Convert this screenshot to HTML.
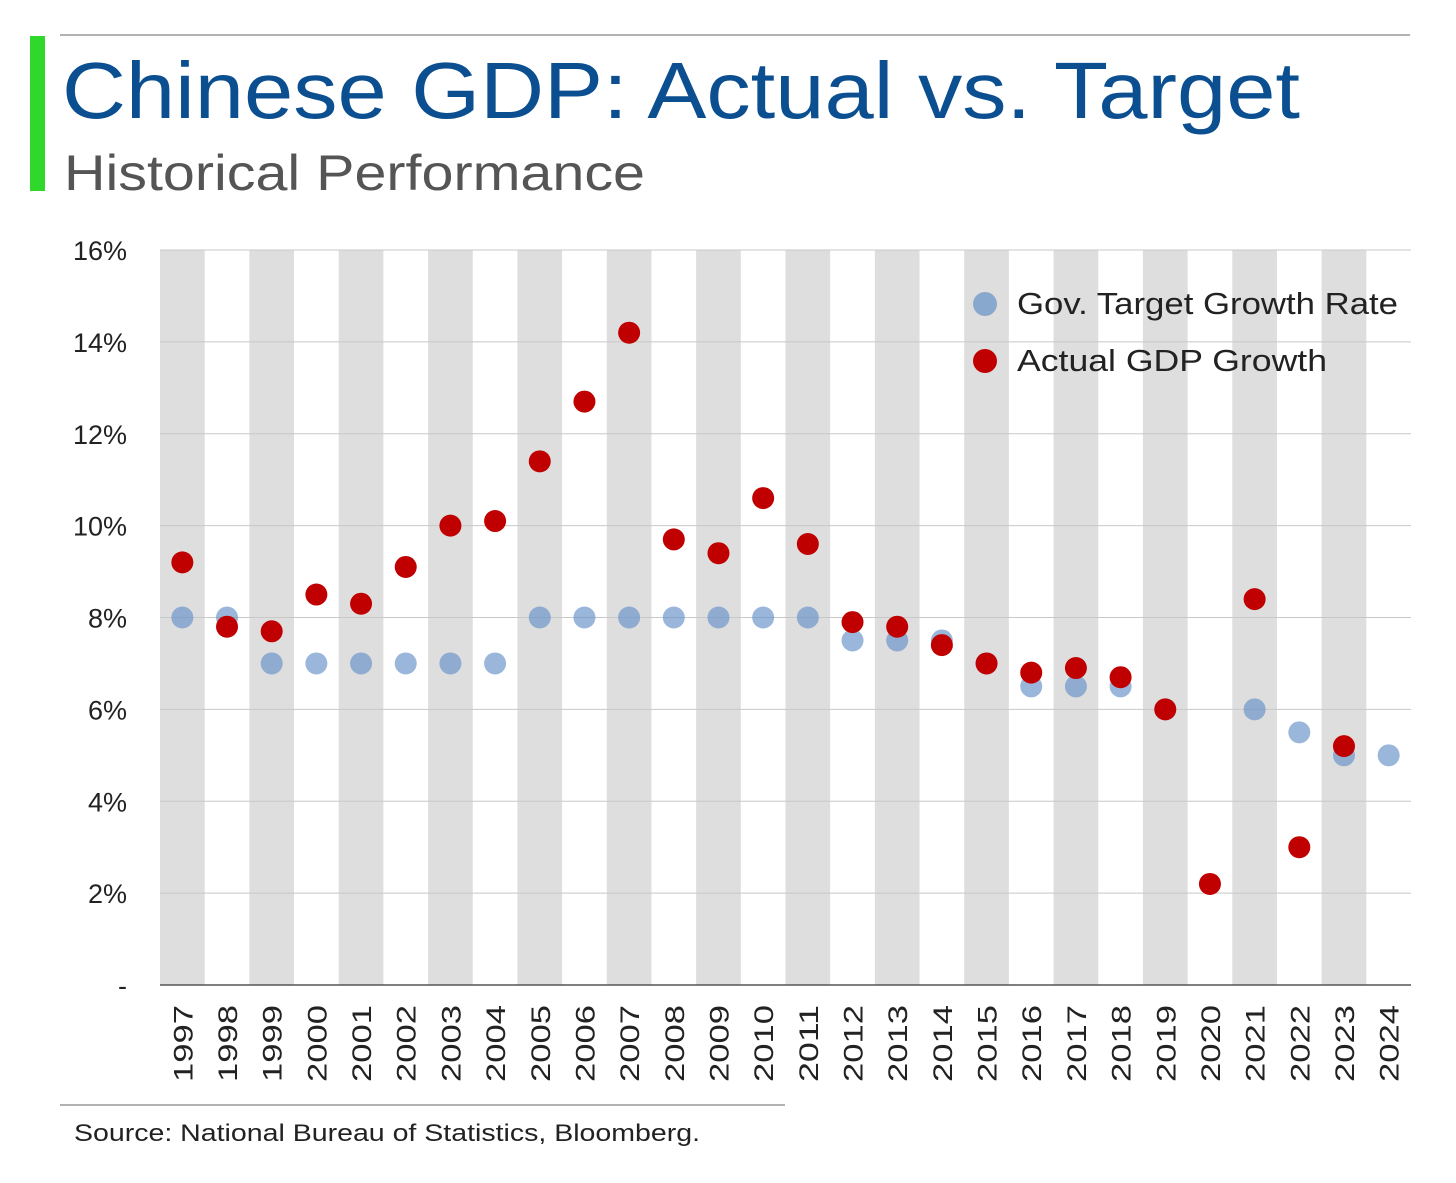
<!DOCTYPE html>
<html><head><meta charset="utf-8"><style>
body{margin:0;background:#fff;width:1456px;height:1178px;overflow:hidden;font-family:"Liberation Sans",sans-serif}
</style></head><body>
<svg width="1456" height="1178" xmlns="http://www.w3.org/2000/svg">
<line x1="60" y1="35" x2="1410" y2="35" stroke="#999" stroke-width="1.5"/>
<rect x="30" y="36" width="15" height="155" fill="#2fd82a"/>
<text x="62" y="118" font-size="80" fill="#0b4f91" textLength="1238" lengthAdjust="spacingAndGlyphs">Chinese GDP: Actual vs. Target</text>
<text x="64" y="190" font-size="50" fill="#555" textLength="581" lengthAdjust="spacingAndGlyphs">Historical Performance</text>
<g id="bands"></g><g id="grid"></g><g id="yticks"></g><g id="xticks"></g><g id="marks"></g>
<line x1="160" y1="985" x2="1411" y2="985" stroke="#555" stroke-width="1.5"/>
<g>
<circle cx="985" cy="304" r="12" fill="rgba(100,145,200,0.7)"/>
<text x="1017" y="314" font-size="31" fill="#222" textLength="381" lengthAdjust="spacingAndGlyphs">Gov. Target Growth Rate</text>
<circle cx="985" cy="361" r="12" fill="#c00000"/>
<text x="1017" y="371" font-size="31" fill="#222" textLength="310" lengthAdjust="spacingAndGlyphs">Actual GDP Growth</text>
</g>
<line x1="60" y1="1105" x2="785" y2="1105" stroke="#999" stroke-width="1.5"/>
<text x="74" y="1141" font-size="24" fill="#222" textLength="626" lengthAdjust="spacingAndGlyphs">Source: National Bureau of Statistics, Bloomberg.</text>
</svg>
<script>
const years=[1997,1998,1999,2000,2001,2002,2003,2004,2005,2006,2007,2008,2009,2010,2011,2012,2013,2014,2015,2016,2017,2018,2019,2020,2021,2022,2023,2024];
const target=[8,8,7,7,7,7,7,7,8,8,8,8,8,8,8,7.5,7.5,7.5,7,6.5,6.5,6.5,6,null,6,5.5,5,5];
const actual=[9.2,7.8,7.7,8.5,8.3,9.1,10.0,10.1,11.4,12.7,14.2,9.7,9.4,10.6,9.6,7.9,7.8,7.4,7.0,6.8,6.9,6.7,6.0,2.2,8.4,3.0,5.2,null];
const yTicks=[0,2,4,6,8,10,12,14,16];
const yLabels=["-","2%","4%","6%","8%","10%","12%","14%","16%"];
const NS="http://www.w3.org/2000/svg";
const L=160,R=1411,T=250,B=985;
const bw=(R-L)/years.length;
const xc=i=>L+bw*(i+0.5);
const y=v=>B-(v/16)*(B-T);
function mk(tag,attrs,parent){const e=document.createElementNS(NS,tag);for(const k in attrs)e.setAttribute(k,attrs[k]);document.getElementById(parent).appendChild(e);return e;}
years.forEach((yr,i)=>{
 if(i%2===0){const r=mk('rect',{x:L+bw*i,y:T,width:bw,height:B-T,fill:'#dedede'},'bands');
 
 }
 const t=mk('text',{transform:`translate(${xc(i)+10},1005) rotate(-90)`,'font-size':27,fill:'#222','text-anchor':'end',textLength:77,lengthAdjust:'spacingAndGlyphs'},'xticks');
 t.textContent=yr;
 
 
});
yTicks.forEach((v,i)=>{
 if(v>0){const g=mk('line',{x1:L,x2:R,y1:y(v),y2:y(v),stroke:'#c8c8c8','stroke-width':1},'grid');
 
 }
 const t=mk('text',{x:127,y:y(v)+10,'font-size':27,fill:'#222','text-anchor':'end'},'yticks');
 t.textContent=yLabels[i];
 
 
});
years.forEach((yr,i)=>{
 if(target[i]!=null){const c=mk('circle',{cx:xc(i),cy:y(target[i]),r:11,fill:'rgba(100,145,200,0.65)'},'marks');
 
 }
});
years.forEach((yr,i)=>{
 if(actual[i]!=null){const c=mk('circle',{cx:xc(i),cy:y(actual[i]),r:11,fill:'#c00000'},'marks');
 
 }
});
</script>
</body></html>
